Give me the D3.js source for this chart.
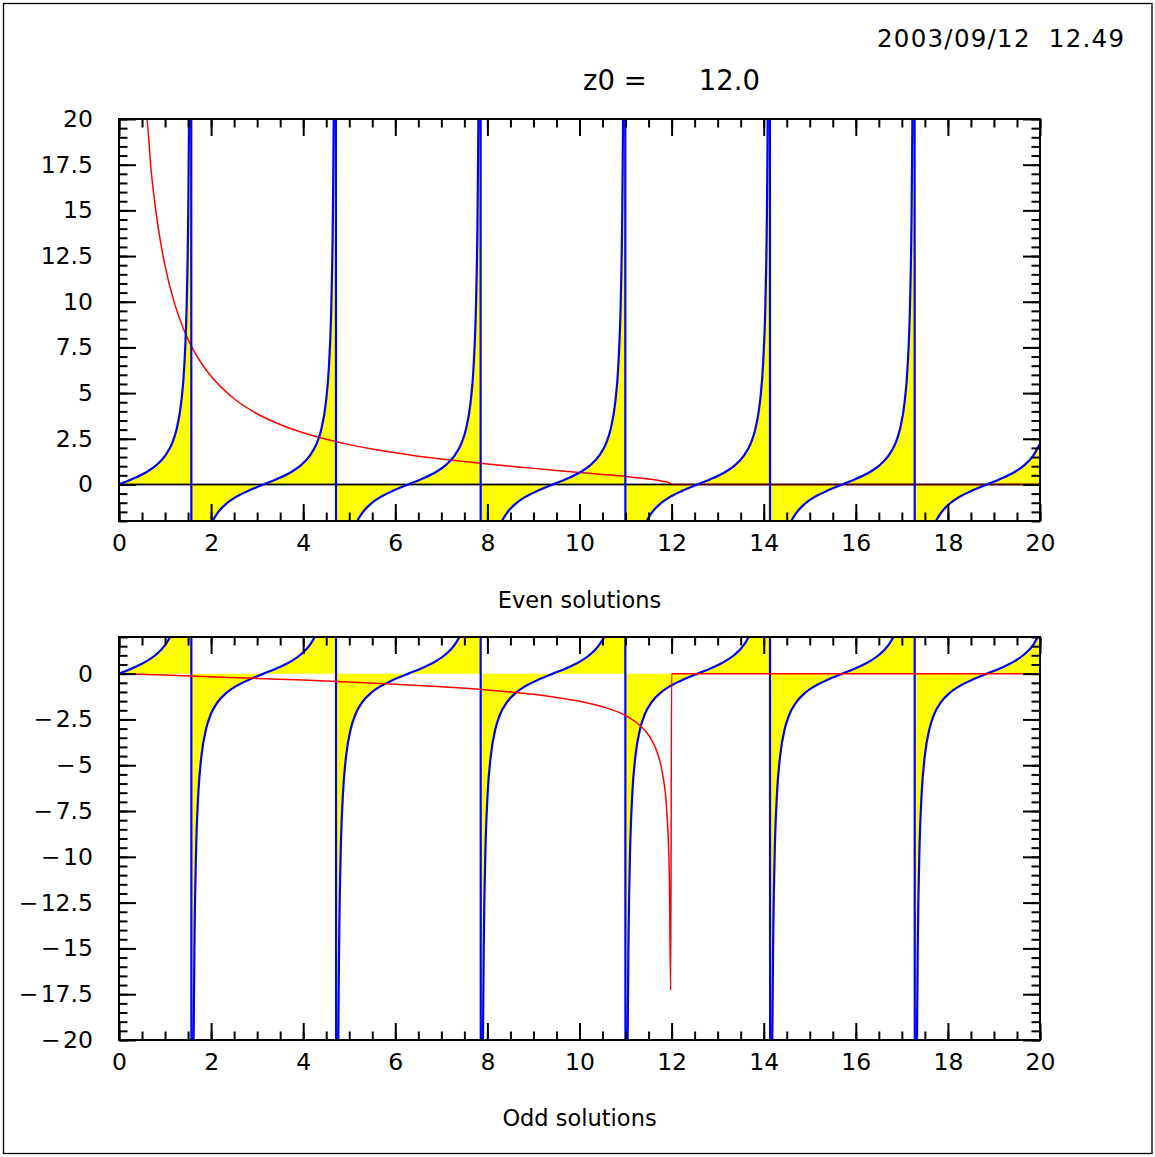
<!DOCTYPE html>
<html><head><meta charset="UTF-8">
<script src="https://d3js.org/d3.v7.min.js"></script>
<style>
body{margin:0;background:#fff}
svg{display:block}
text{font-family:"DejaVu Sans",sans-serif;fill:#000}
</style></head><body><div id="chart"></div><script>
// tan(z) branches (same blue curve in both panels)
const tanB0 = [[0,0],[0.3,0.31],[0.6,0.68],[0.8,1.03],[1.0,1.56],[1.15,2.23],[1.25,3.01],[1.35,4.46],[1.42,6.58],[1.47,9.89],[1.5,14.10],[1.52,19.67],[1.54,32.46],[1.56,92.62]];
const tanB1 = [[1.5816,-92.62],[1.6016,-32.46],[1.6216,-19.67],[1.6416,-14.10],[1.6716,-9.89],[1.7216,-6.58],[1.7916,-4.46],[1.8916,-3.01],[1.9916,-2.23],[2.1416,-1.56],[2.3416,-1.03],[2.5416,-0.68],[2.8416,-0.31],[3.1416,0],[3.4416,0.31],[3.7416,0.68],[3.9416,1.03],[4.1416,1.56],[4.2916,2.23],[4.3916,3.01],[4.4916,4.46],[4.5616,6.58],[4.6116,9.89],[4.6416,14.10],[4.6616,19.67],[4.6816,32.46],[4.7016,92.62]];
const tanB2 = [[4.7232,-92.62],[4.7432,-32.46],[4.7632,-19.67],[4.7832,-14.10],[4.8132,-9.89],[4.8632,-6.58],[4.9332,-4.46],[5.0332,-3.01],[5.1332,-2.23],[5.2832,-1.56],[5.4832,-1.03],[5.6832,-0.68],[5.9832,-0.31],[6.2832,0],[6.5832,0.31],[6.8832,0.68],[7.0832,1.03],[7.2832,1.56],[7.4332,2.23],[7.5332,3.01],[7.6332,4.46],[7.7032,6.58],[7.7532,9.89],[7.7832,14.10],[7.8032,19.67],[7.8232,32.46],[7.8432,92.62]];
const tanB3 = [[7.8648,-92.62],[7.8848,-32.46],[7.9048,-19.67],[7.9248,-14.10],[7.9548,-9.89],[8.0048,-6.58],[8.0748,-4.46],[8.1748,-3.01],[8.2748,-2.23],[8.4248,-1.56],[8.6248,-1.03],[8.8248,-0.68],[9.1248,-0.31],[9.4248,0],[9.7248,0.31],[10.0248,0.68],[10.2248,1.03],[10.4248,1.56],[10.5748,2.23],[10.6748,3.01],[10.7748,4.46],[10.8448,6.58],[10.8948,9.89],[10.9248,14.10],[10.9448,19.67],[10.9648,32.46],[10.9848,92.62]];
const tanB4 = [[11.0064,-92.62],[11.0264,-32.46],[11.0464,-19.67],[11.0664,-14.10],[11.0964,-9.89],[11.1464,-6.58],[11.2164,-4.46],[11.3164,-3.01],[11.4164,-2.23],[11.5664,-1.56],[11.7664,-1.03],[11.9664,-0.68],[12.2664,-0.31],[12.5664,0],[12.8664,0.31],[13.1664,0.68],[13.3664,1.03],[13.5664,1.56],[13.7164,2.23],[13.8164,3.01],[13.9164,4.46],[13.9864,6.58],[14.0364,9.89],[14.0664,14.10],[14.0864,19.67],[14.1064,32.46],[14.1264,92.62]];
const tanB5 = [[14.148,-92.62],[14.168,-32.46],[14.188,-19.67],[14.208,-14.10],[14.238,-9.89],[14.288,-6.58],[14.358,-4.46],[14.458,-3.01],[14.558,-2.23],[14.708,-1.56],[14.908,-1.03],[15.108,-0.68],[15.408,-0.31],[15.708,0],[16.008,0.31],[16.308,0.68],[16.508,1.03],[16.708,1.56],[16.858,2.23],[16.958,3.01],[17.058,4.46],[17.128,6.58],[17.178,9.89],[17.208,14.10],[17.228,19.67],[17.248,32.46],[17.268,92.62]];
const tanB6 = [[17.2896,-92.62],[17.3096,-32.46],[17.3296,-19.67],[17.3496,-14.10],[17.3796,-9.89],[17.4296,-6.58],[17.4996,-4.46],[17.5996,-3.01],[17.6996,-2.23],[17.8496,-1.56],[18.0496,-1.03],[18.2496,-0.68],[18.5496,-0.31],[18.8496,0],[19.1496,0.31],[19.4496,0.68],[19.6496,1.03],[19.8496,1.56],[20,2.24]];

// red curves
const evenRhs = [[0.37,20],[0.57,20],[0.6,19.97],[0.7,17.11],[0.8,14.97],[0.9,13.30],[1.0,11.96],[1.2,9.95],[1.4,8.51],[1.6,7.43],[1.8,6.59],[2.0,5.92],[2.5,4.69],[3,3.87],[3.5,3.28],[4,2.83],[4.5,2.47],[5,2.18],[5.5,1.94],[6,1.73],[6.5,1.55],[7,1.39],[7.5,1.25],[8,1.12],[8.5,1.0],[9,0.88],[9.5,0.77],[10,0.66],[10.5,0.55],[11,0.44],[11.5,0.30],[11.8,0.18],[11.95,0.09],[12,0],[20,0]];
const oddRhs = [[0,0],[1,-0.08],[2,-0.17],[3,-0.26],[4,-0.35],[5,-0.46],[6,-0.58],[7,-0.72],[8,-0.89],[8.5,-1.0],[9,-1.13],[9.5,-1.30],[10,-1.51],[10.5,-1.81],[11,-2.29],[11.3,-2.80],[11.5,-3.35],[11.7,-4.39],[11.8,-5.41],[11.9,-7.70],[11.95,-10.92],[11.98,-17.29],[12,0],[20,0]];

const xMajor = [0,2,4,6,8,10,12,14,16,18,20];
const evenYMajor = [0,2.5,5,7.5,10,12.5,15,17.5,20];
const oddYMajor = [-20,-17.5,-15,-12.5,-10,-7.5,-5,-2.5,0];

const tanCurve = [].concat(tanB0, tanB1, tanB2, tanB3, tanB4, tanB5, tanB6);

const W = 1155, H = 1157;
const L = 119, R = 1040;
const svg = d3.select('#chart').append('svg').attr('width', W).attr('height', H);

svg.append('rect').attr('x', 3.5).attr('y', 3.5).attr('width', 1148.5).attr('height', 1150)
  .attr('fill', 'none').attr('stroke', '#000').attr('stroke-width', 1.3);

const x = d3.scaleLinear().domain([0, 20]).range([L, R]);
const fmt = d => d < 0 ? '\u2212\u200a' + Math.abs(d) : String(d);

function ticks(g, axisFn, scale, values, size, pad, labels) {
  g.call(axisFn(scale).tickValues(values).tickSizeInner(-size).tickSizeOuter(0)
    .tickPadding(pad).tickFormat(labels ? fmt : () => ''));
  g.select('.domain').remove();
  g.selectAll('line').attr('stroke', '#000').attr('stroke-width', 2);
  g.selectAll('text').attr('font-size', 23.5).attr('font-family', 'DejaVu Sans').attr('fill', '#000');
}

function panel(id, top, bottom, yDomain, yMajor, rhs, zeroLine, title, titleY) {
  const y = d3.scaleLinear().domain(yDomain).range([bottom, top]);
  const g = svg.append('g');
  g.append('clipPath').attr('id', id).append('rect')
    .attr('x', L).attr('y', top).attr('width', R - L).attr('height', bottom - top);
  const plot = g.append('g').attr('clip-path', `url(#${id})`);

  const area = d3.area().x(d => x(d[0])).y0(y(0)).y1(d => y(d[1])).curve(d3.curveMonotoneX);
  const line = d3.line().x(d => x(d[0])).y(d => y(d[1])).curve(d3.curveMonotoneX);

  plot.append('path').datum(tanCurve).attr('d', area).attr('fill', '#ffff00');

  const blue = () => plot.append('path').datum(tanCurve).attr('d', line)
    .attr('fill', 'none').attr('stroke', '#0000ff').attr('stroke-width', 2.2);
  const red = () => plot.append('path').datum(rhs).attr('d', line)
    .attr('fill', 'none').attr('stroke', '#ff0000').attr('stroke-width', 1.5);

  if (zeroLine) {
    plot.append('line').attr('x1', L).attr('x2', R).attr('y1', y(0)).attr('y2', y(0))
      .attr('stroke', '#000').attr('stroke-width', 1.6);
    red();
    plot.append('line').attr('x1', L).attr('x2', R).attr('y1', y(0)).attr('y2', y(0))
      .attr('stroke', '#000').attr('stroke-opacity', 0.7).attr('stroke-width', 1.6);
    blue();
  } else {
    blue();
    red();
  }

  const xMinor = d3.range(0, 20.001, 0.5);
  const yMinor = d3.range(Math.ceil(yDomain[0] * 2) / 2, yDomain[1] + 0.001, 0.5);

  ticks(g.append('g').attr('transform', `translate(0,${bottom})`), d3.axisBottom, x, xMinor, 8.5, 0, false);
  ticks(g.append('g').attr('transform', `translate(0,${bottom})`), d3.axisBottom, x, xMajor, 17, 13, true);
  ticks(g.append('g').attr('transform', `translate(0,${top})`), d3.axisTop, x, xMinor, 8.5, 0, false);
  ticks(g.append('g').attr('transform', `translate(0,${top})`), d3.axisTop, x, xMajor, 17, 0, false);
  ticks(g.append('g').attr('transform', `translate(${L},0)`), d3.axisLeft, y, yMinor, 8.5, 0, false);
  ticks(g.append('g').attr('transform', `translate(${L},0)`), d3.axisLeft, y, yMajor, 17, 26, true);
  ticks(g.append('g').attr('transform', `translate(${R},0)`), d3.axisRight, y, yMinor, 8.5, 0, false);
  ticks(g.append('g').attr('transform', `translate(${R},0)`), d3.axisRight, y, yMajor, 17, 0, false);

  g.append('rect').attr('x', L).attr('y', top).attr('width', R - L).attr('height', bottom - top)
    .attr('fill', 'none').attr('stroke', '#000').attr('stroke-width', 2);

  g.append('text').attr('x', (L + R) / 2).attr('y', titleY).attr('text-anchor', 'middle')
    .attr('font-size', 22.5).text(title);
}

panel('clipEven', 119, 521, [-2, 20], evenYMajor, evenRhs, true, 'Even solutions', 608);
panel('clipOdd', 637, 1040, [-20, 2], oddYMajor, oddRhs, false, 'Odd solutions', 1126);

svg.append('text').attr('x', 1124).attr('y', 47).attr('text-anchor', 'end')
  .attr('font-size', 24.5).attr('textLength', 247).attr('lengthAdjust', 'spacing')
  .style('white-space', 'pre').text('2003/09/12  12.49');
svg.append('text').attr('x', 583).attr('y', 90).attr('font-size', 27.5).text('z0 =');
svg.append('text').attr('x', 760).attr('y', 90).attr('text-anchor', 'end').attr('font-size', 27.5).text('12.0');
</script></body></html>
